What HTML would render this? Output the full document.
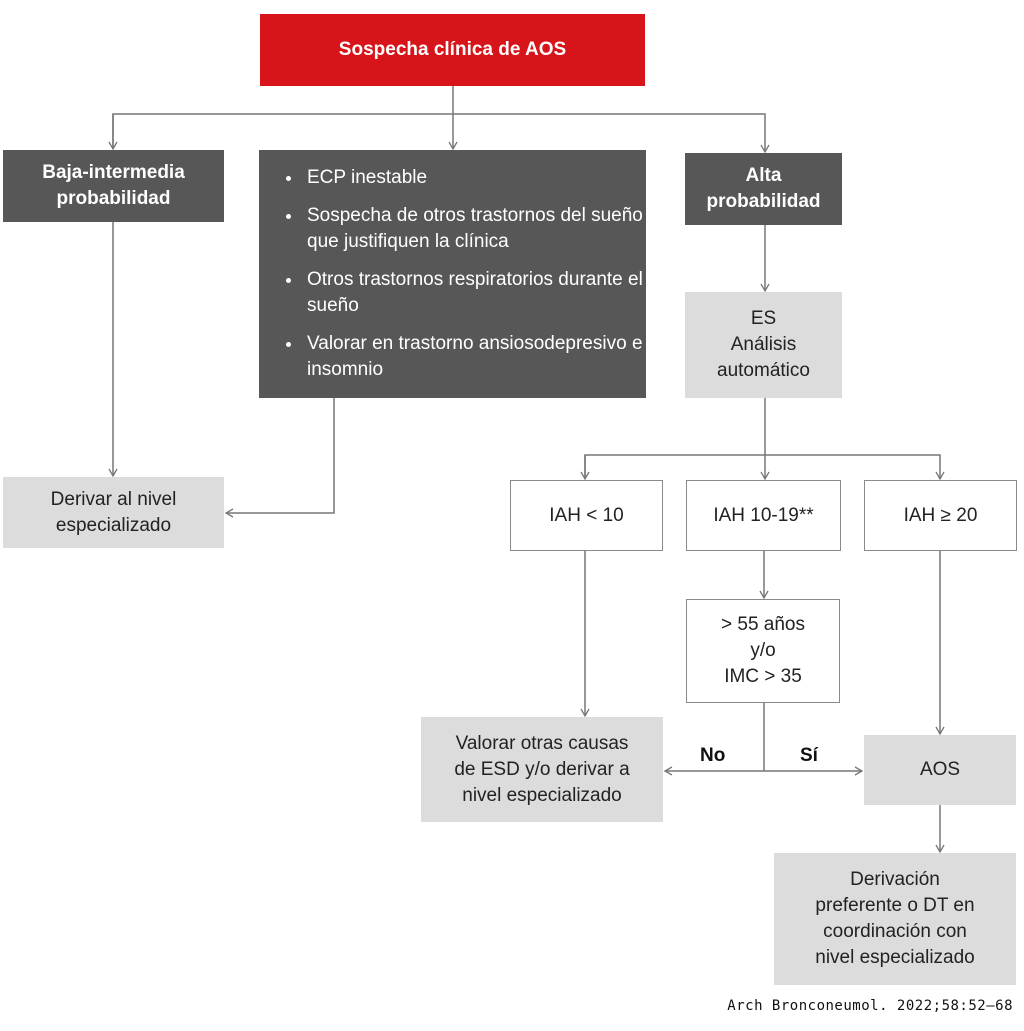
<!DOCTYPE html>
<html><head><meta charset="utf-8"><style>
body{margin:0;width:1024px;height:1031px;background:#fff;position:relative;font-family:"Liberation Sans",Arial,sans-serif;overflow:hidden}
.b{position:absolute;display:flex;align-items:center;justify-content:center;text-align:center;box-sizing:border-box;font-size:19px;line-height:26px}
.dk{background:#575757;color:#fff;font-weight:bold}
.lt{background:#dcdcdc;color:#222}
.wh{background:#fff;border:1px solid #8a8a8a;color:#222}
ul{margin:0;padding:0 0 0 22px;text-align:left;font-size:19px;line-height:26px;color:#fff}
li{margin-bottom:12px;padding-left:4px}
.lab{position:absolute;font-weight:bold;font-size:19px;color:#111}
</style></head><body>
<svg width="1024" height="1031" style="position:absolute;left:0;top:0">
<defs><marker id="a" markerWidth="10" markerHeight="10" refX="8" refY="5" orient="auto" markerUnits="userSpaceOnUse"><path d="M1,1 L8,5 L1,9" fill="none" stroke="#777" stroke-width="1.3"/></marker></defs>
<g stroke="#777" stroke-width="1.5" fill="none">
<line x1="453" y1="86" x2="453" y2="149" marker-end="url(#a)"/>
<polyline points="113,149 113,114 765,114 765,152" marker-end="url(#a)"/>
<line x1="113" y1="114" x2="113" y2="149" marker-end="url(#a)"/>
<line x1="765" y1="225" x2="765" y2="291" marker-end="url(#a)"/>
<line x1="765" y1="398" x2="765" y2="479" marker-end="url(#a)"/>
<polyline points="585,479 585,455 940,455 940,479" marker-end="url(#a)"/>
<line x1="585" y1="455" x2="585" y2="479" marker-end="url(#a)"/>
<line x1="764" y1="551" x2="764" y2="598" marker-end="url(#a)"/>
<line x1="585" y1="551" x2="585" y2="716" marker-end="url(#a)"/>
<line x1="940" y1="551" x2="940" y2="734" marker-end="url(#a)"/>
<line x1="764" y1="703" x2="764" y2="771"/>
<line x1="764" y1="771" x2="665" y2="771" marker-end="url(#a)"/>
<line x1="764" y1="771" x2="862" y2="771" marker-end="url(#a)"/>
<line x1="940" y1="805" x2="940" y2="852" marker-end="url(#a)"/>
<line x1="113" y1="222" x2="113" y2="476" marker-end="url(#a)"/>
<polyline points="334,398 334,513 226,513" marker-end="url(#a)"/>
</g></svg>
<div class="b" style="left:260px;top:14px;width:385px;height:72px;background:#d7141a;color:#fff;font-weight:bold">Sospecha clínica de AOS</div>
<div class="b dk" style="left:3px;top:150px;width:221px;height:72px">Baja-intermedia<br>probabilidad</div>
<div class="b dk" style="left:259px;top:150px;width:387px;height:248px;justify-content:flex-start;align-items:flex-start;padding:15px 0 0 22px;font-weight:normal">
<ul><li>ECP inestable</li><li>Sospecha de otros trastornos del sueño que justifiquen la clínica</li><li>Otros trastornos respiratorios durante el sueño</li><li>Valorar en trastorno ansiosodepresivo e insomnio</li></ul></div>
<div class="b dk" style="left:685px;top:153px;width:157px;height:72px">Alta<br>probabilidad</div>
<div class="b lt" style="left:685px;top:292px;width:157px;height:106px">ES<br>Análisis<br>automático</div>
<div class="b wh" style="left:510px;top:480px;width:153px;height:71px">IAH &lt; 10</div>
<div class="b wh" style="left:686px;top:480px;width:155px;height:71px">IAH 10-19**</div>
<div class="b wh" style="left:864px;top:480px;width:153px;height:71px">IAH ≥ 20</div>
<div class="b wh" style="left:686px;top:599px;width:154px;height:104px">&gt; 55 años<br>y/o<br>IMC &gt; 35</div>
<div class="b lt" style="left:421px;top:717px;width:242px;height:105px">Valorar otras causas<br>de ESD y/o derivar a<br>nivel especializado</div>
<div class="b lt" style="left:864px;top:735px;width:152px;height:70px">AOS</div>
<div class="b lt" style="left:774px;top:853px;width:242px;height:132px">Derivación<br>preferente o DT en<br>coordinación con<br>nivel especializado</div>
<div class="b lt" style="left:3px;top:477px;width:221px;height:71px">Derivar al nivel<br>especializado</div>
<div class="lab" style="left:700px;top:745px">No</div>
<div class="lab" style="left:800px;top:745px">Sí</div>
<div style="position:absolute;right:11px;top:998px;font-family:'DejaVu Sans Mono',monospace;font-size:14px;color:#111;letter-spacing:0.5px">Arch Bronconeumol. 2022;58:52–68</div>
</body></html>
